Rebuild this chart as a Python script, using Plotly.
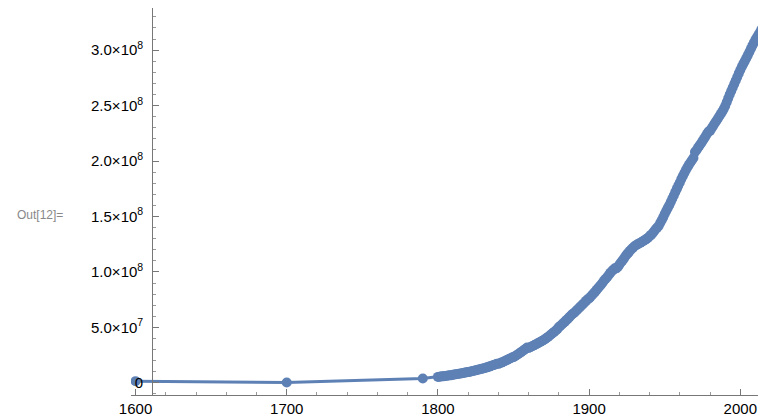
import plotly.graph_objects as go

# US population (millions)
early_years = [1600, 1700, 1790]
early_pop = [1.5, 0.25, 3.93]

pop_1800s = [5.31, 5.47, 5.63, 5.80, 5.97, 6.15, 6.33, 6.52, 6.71, 6.91,
             7.24, 7.46, 7.68, 7.91, 8.15, 8.40, 8.65, 8.91, 9.18, 9.46,
             9.64, 9.94, 10.25, 10.57, 10.89, 11.23, 11.58, 11.94, 12.31, 12.69,
             12.87, 13.29, 13.72, 14.16, 14.62, 15.09, 15.58, 16.08, 16.60, 17.14,
             17.07, 17.63, 18.21, 18.80, 19.42, 20.06, 20.72, 21.40, 22.10, 22.82,
             23.19, 24.02, 24.88, 25.77, 26.69, 27.64, 28.63, 29.65, 30.71, 31.81,
             31.44, 32.10, 32.77, 33.45, 34.15, 34.86, 35.59, 36.33, 37.09, 37.86,
             38.56, 39.55, 40.56, 41.60, 42.67, 43.76, 44.88, 46.03, 47.21, 48.42,
             50.19, 51.40, 52.63, 53.89, 55.18, 56.50, 57.85, 59.23, 60.64, 62.08,
             62.98, 64.36, 65.67, 67.00, 68.34, 69.70, 71.08, 72.47, 73.87, 75.29]
pop_1900s = [76.09, 77.58, 79.16, 80.63, 82.17, 83.82, 85.45, 87.01, 88.71, 90.49,
             92.41, 93.86, 95.34, 97.23, 99.11, 100.55, 101.96, 103.27, 103.21, 104.51,
             106.46, 108.54, 110.05, 111.95, 114.11, 115.83, 117.40, 119.04, 120.51, 121.77,
             123.08, 124.04, 124.84, 125.58, 126.37, 127.25, 128.05, 128.82, 129.83, 130.88,
             132.12, 133.40, 134.86, 136.74, 138.40, 139.93, 141.39, 144.13, 146.63, 149.19,
             152.27, 154.88, 157.55, 160.18, 163.03, 165.93, 168.90, 171.98, 174.88, 177.83,
             180.67, 183.69, 186.54, 189.24, 191.89, 194.30, 196.56, 198.71, 200.71, 202.68,
             208.05, 209.66, 211.90, 213.91, 215.85, 217.97, 220.04, 222.24, 224.58, 226.55,
             227.22, 229.47, 231.66, 233.79, 235.82, 237.92, 240.13, 242.29, 244.50, 246.82,
             249.62, 252.98, 256.51, 259.92, 263.13, 266.28, 269.39, 272.65, 275.85, 279.04,
             282.16, 284.97, 287.63, 290.11, 292.81, 295.52, 298.38, 301.23, 304.09, 306.77,
             309.33, 311.59, 313.91, 316.16, 318.86, 321.37]

years = early_years + list(range(1800, 1900)) + list(range(1900, 1900 + len(pop_1900s)))
pop = [v * 1e6 for v in early_pop + pop_1800s + pop_1900s]

y_ticks = [0, 5e7, 1e8, 1.5e8, 2e8, 2.5e8, 3e8]
y_labels = ["0", "5.0×10<sup>7</sup>", "1.0×10<sup>8</sup>", "1.5×10<sup>8</sup>",
            "2.0×10<sup>8</sup>", "2.5×10<sup>8</sup>", "3.0×10<sup>8</sup>"]

x0, x1 = 1597, 2017
fig = go.Figure(go.Scatter(x=years, y=pop, mode='lines+markers',
                           line=dict(color='#5E81B5', width=3),
                           marker=dict(color='#5E81B5', size=10)))
# the page adds 8px around the div, so the figure is drawn 8px smaller
fig.update_layout(width=758, height=411, plot_bgcolor='white', paper_bgcolor='white',
                  margin=dict(l=123, r=0, t=0, b=24, autoexpand=False), showlegend=False,
                  font=dict(family='Liberation Sans, Arial', size=15, color='black'))
fig.update_xaxes(range=[x0, x1], showgrid=False, zeroline=False, showline=True,
                 linecolor='#777', linewidth=1, ticks='inside', ticklen=6, tickcolor='#777',
                 tickvals=[1600, 1700, 1800, 1900, 2000],
                 minor=dict(dtick=20, ticks='inside', ticklen=3, tickcolor='#999'))
fig.update_yaxes(range=[-1.1e7, 3.38e8], showgrid=False, zeroline=False, showline=True,
                 linecolor='#777', linewidth=1, ticks='inside', ticklen=6, tickcolor='#777',
                 tickvals=y_ticks, ticktext=y_labels, anchor='free', ticklabelstandoff=6,
                 position=(1611 - x0) / (x1 - x0),
                 minor=dict(dtick=1e7, tick0=0, ticks='inside', ticklen=3, tickcolor='#999'))
fig.add_annotation(text="Out[12]=", xref='paper', yref='paper', x=-0.143, y=0.465,
                   xanchor='center', showarrow=False,
                   font=dict(size=12, color='#888'))
fig.write_html("out.html")
